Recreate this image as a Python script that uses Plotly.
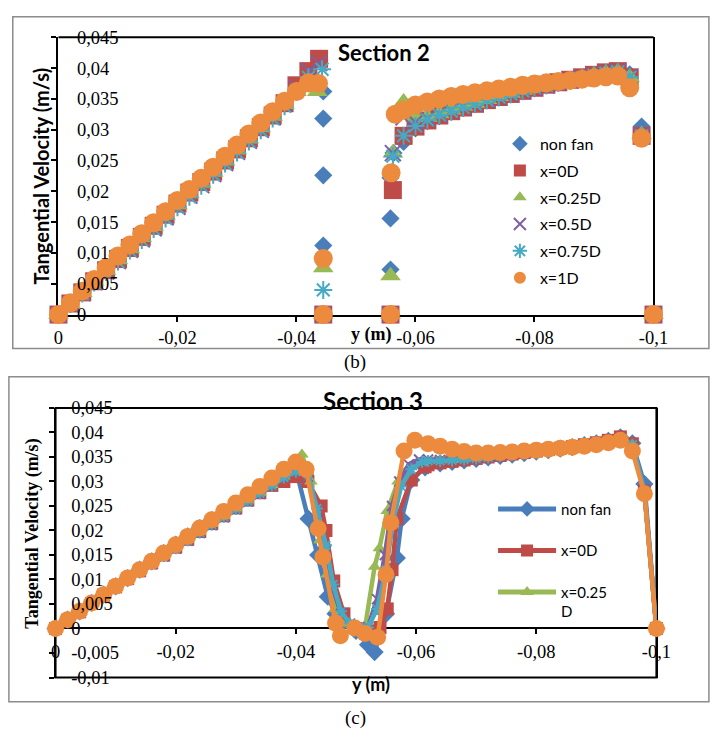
import plotly.graph_objects as go

W, H = 721, 742

# ---------------- DATA ----------------
SERIES = ["non fan", "x=0D", "x=0.25D", "x=0.5D", "x=0.75D", "x=1D"]
COLORS = ["#4A7EBB", "#BE4B48", "#98B954", "#7D60A0", "#46AAC5", "#EC8A3E"]

Y_TICKVALS_TOP = [0, 0.005, 0.01, 0.015, 0.02, 0.025, 0.03, 0.035, 0.04, 0.045]
Y_TICKTEXT_TOP = ["0", "0,005", "0,01", "0,015", "0,02", "0,025", "0,03", "0,035", "0,04", "0,045"]
Y_TICKVALS_BOT = [-0.01, -0.005, 0, 0.005, 0.01, 0.015, 0.02, 0.025, 0.03, 0.035, 0.04, 0.045]
Y_TICKTEXT_BOT = ["-0,01", "-0,005", "0", "0,005", "0,01", "0,015", "0,02", "0,025", "0,03", "0,035", "0,04", "0,045"]
X_TICKVALS = [0, -0.02, -0.04, -0.06, -0.08, -0.1]
X_TICKTEXT = ["0", "-0,02", "-0,04", "-0,06", "-0,08", "-0,1"]

# Section 2 ---------------------------------------------------------------
S2_X_LEFT = [0, -0.002, -0.004, -0.006, -0.008, -0.010, -0.012, -0.014, -0.016, -0.018, -0.020,
             -0.022, -0.024, -0.026, -0.028, -0.030, -0.032, -0.034, -0.036, -0.038, -0.040, -0.042]
S2_X_RIGHT = [-0.058, -0.060, -0.062, -0.064, -0.066, -0.068, -0.070, -0.072, -0.074, -0.076, -0.078,
              -0.080, -0.082, -0.084, -0.086, -0.088, -0.090, -0.092, -0.094, -0.096, -0.098, -0.100]

S2_NF_LEFT = [0, 0.0019, 0.0038, 0.0057, 0.0076, 0.0095, 0.0113, 0.0131, 0.0149, 0.0167, 0.0185,
              0.0203, 0.0221, 0.0239, 0.0257, 0.0275, 0.0293, 0.0311, 0.0329, 0.0347, 0.0362, 0.0375]
S2_X0_LEFT = [0, 0.0018, 0.0036, 0.0054, 0.0072, 0.0090, 0.0108, 0.0126, 0.0144, 0.0162, 0.0180,
              0.0198, 0.0215, 0.0232, 0.0250, 0.0268, 0.0286, 0.0304, 0.0323, 0.0343, 0.0372, 0.0395]
S2_X25_LEFT = [0, 0.0018, 0.0036, 0.0054, 0.0072, 0.0089, 0.0107, 0.0125, 0.0143, 0.0161, 0.0178,
               0.0196, 0.0213, 0.0231, 0.0249, 0.0267, 0.0285, 0.0303, 0.0322, 0.0341, 0.0362, 0.0383]
S2_X50_LEFT = [0, 0.0017, 0.0035, 0.0053, 0.0070, 0.0087, 0.0105, 0.0122, 0.0140, 0.0158, 0.0175,
               0.0193, 0.0210, 0.0228, 0.0246, 0.0264, 0.0282, 0.0300, 0.0320, 0.0342, 0.0368, 0.0395]
S2_X75_LEFT = [0, 0.0017, 0.0034, 0.0052, 0.0069, 0.0086, 0.0104, 0.0121, 0.0139, 0.0156, 0.0174,
               0.0191, 0.0209, 0.0227, 0.0245, 0.0263, 0.0281, 0.0299, 0.0318, 0.0338, 0.0362, 0.0385]
S2_X100_LEFT = [0, 0.0019, 0.0038, 0.0057, 0.0076, 0.0095, 0.0113, 0.0131, 0.0149, 0.0167, 0.0185,
                0.0203, 0.0221, 0.0239, 0.0257, 0.0275, 0.0293, 0.0311, 0.0329, 0.0346, 0.0362, 0.0376]

S2_NF_GAP_X = [-0.0445, -0.0445, -0.0445, -0.0445, -0.0445, -0.0558, -0.0558, -0.0558, -0.0558, -0.0563]
S2_NF_GAP_V = [0.0362, 0.0318, 0.0226, 0.0112, 0, 0, 0.0073, 0.0156, 0.0222, 0.0262]
S2_X0_GAP_X = [-0.0438, -0.0445, -0.0558, -0.0562]
S2_X0_GAP_V = [0.0415, 0, 0, 0.0202]
S2_X25_GAP_X = [-0.0435, -0.0445, -0.0445, -0.0558, -0.0558, -0.0562]
S2_X25_GAP_V = [0.0362, 0.0076, 0, 0, 0.0063, 0.0262]
S2_X50_GAP_X = [-0.0438, -0.0445, -0.0558, -0.0562]
S2_X50_GAP_V = [0.0408, 0, 0, 0.0262]
S2_X75_GAP_X = [-0.0443, -0.0445, -0.0445, -0.0558, -0.0562]
S2_X75_GAP_V = [0.0398, 0.0040, 0, 0, 0.0257]
S2_X100_GAP_X = [-0.0437, -0.0445, -0.0445, -0.0558, -0.0559, -0.0566]
S2_X100_GAP_V = [0.0375, 0.0091, 0, 0, 0.0230, 0.0325]

S2_NF_RIGHT = [0.0280, 0.0302, 0.0314, 0.0322, 0.0329, 0.0335, 0.0341, 0.0347, 0.0352, 0.0357, 0.0362,
               0.0367, 0.0372, 0.0376, 0.0380, 0.0384, 0.0388, 0.0392, 0.0395, 0.0390, 0.0305, 0]
S2_X0_RIGHT = [0.0290, 0.0305, 0.0315, 0.0323, 0.0330, 0.0336, 0.0342, 0.0348, 0.0353, 0.0358, 0.0363,
               0.0368, 0.0373, 0.0377, 0.0381, 0.0385, 0.0389, 0.0393, 0.0395, 0.0385, 0.0290, 0]
S2_X25_RIGHT = [0.0345, 0.0320, 0.0320, 0.0326, 0.0332, 0.0338, 0.0343, 0.0349, 0.0354, 0.0359, 0.0364,
                0.0369, 0.0373, 0.0377, 0.0381, 0.0385, 0.0389, 0.0392, 0.0394, 0.0385, 0.0292, 0]
S2_X50_RIGHT = [0.0320, 0.0312, 0.0318, 0.0325, 0.0331, 0.0337, 0.0342, 0.0348, 0.0353, 0.0358, 0.0363,
                0.0368, 0.0372, 0.0376, 0.0380, 0.0384, 0.0388, 0.0392, 0.0394, 0.0385, 0.0290, 0]
S2_X75_RIGHT = [0.0290, 0.0306, 0.0316, 0.0324, 0.0330, 0.0336, 0.0342, 0.0348, 0.0353, 0.0358, 0.0363,
                0.0368, 0.0372, 0.0376, 0.0380, 0.0384, 0.0388, 0.0392, 0.0394, 0.0385, 0.0290, 0]
S2_X100_RIGHT = [0.0332, 0.0340, 0.0345, 0.0350, 0.0354, 0.0357, 0.0360, 0.0363, 0.0366, 0.0369, 0.0372,
                 0.0374, 0.0376, 0.0378, 0.0380, 0.0382, 0.0384, 0.0386, 0.0387, 0.0368, 0.0286, 0]

# Section 3 ---------------------------------------------------------------
S3_X_LEFT = [0, -0.002, -0.004, -0.006, -0.008, -0.010, -0.012, -0.014, -0.016, -0.018, -0.020,
             -0.022, -0.024, -0.026, -0.028, -0.030, -0.032, -0.034, -0.036, -0.038, -0.040]
S3_X_RIGHT = [-0.062, -0.064, -0.066, -0.068, -0.070, -0.072, -0.074, -0.076, -0.078, -0.080,
              -0.082, -0.084, -0.086, -0.088, -0.090, -0.092, -0.094, -0.096, -0.098, -0.100]

S3_NF_LEFT = [0, 0.0018, 0.0035, 0.0052, 0.0069, 0.0086, 0.0103, 0.0120, 0.0137, 0.0154, 0.0171,
              0.0188, 0.0205, 0.0221, 0.0237, 0.0253, 0.0269, 0.0285, 0.0301, 0.0315, 0.0325]
S3_X0_LEFT = [0, 0.0017, 0.0034, 0.0051, 0.0068, 0.0085, 0.0102, 0.0118, 0.0134, 0.0150, 0.0166,
              0.0182, 0.0198, 0.0214, 0.0230, 0.0246, 0.0262, 0.0277, 0.0292, 0.0300, 0.0310]
S3_X25_LEFT = [0, 0.0017, 0.0034, 0.0051, 0.0068, 0.0085, 0.0101, 0.0117, 0.0133, 0.0149, 0.0165,
               0.0181, 0.0197, 0.0213, 0.0229, 0.0245, 0.0261, 0.0277, 0.0293, 0.0310, 0.0335]
S3_X50_LEFT = [0, 0.0016, 0.0033, 0.0050, 0.0066, 0.0083, 0.0099, 0.0115, 0.0131, 0.0147, 0.0163,
               0.0179, 0.0195, 0.0211, 0.0227, 0.0243, 0.0259, 0.0275, 0.0291, 0.0308, 0.0322]
S3_X75_LEFT = [0, 0.0016, 0.0033, 0.0050, 0.0066, 0.0083, 0.0099, 0.0116, 0.0132, 0.0148, 0.0164,
               0.0180, 0.0196, 0.0212, 0.0228, 0.0244, 0.0260, 0.0276, 0.0292, 0.0308, 0.0320]
S3_X100_LEFT = [0, 0.0018, 0.0035, 0.0052, 0.0069, 0.0086, 0.0103, 0.0120, 0.0137, 0.0154, 0.0171,
                0.0188, 0.0205, 0.0222, 0.0239, 0.0256, 0.0273, 0.0290, 0.0307, 0.0325, 0.0340]

S3_NF_MID_X = [-0.0421, -0.0437, -0.0453, -0.0466, -0.0479, -0.0500, -0.0520, -0.0531, -0.0550,
               -0.0568, -0.0576, -0.0592, -0.0615]
S3_NF_MID_V = [0.0224, 0.0150, 0.0065, 0.0030, 0.0015, -0.0005, -0.0033, -0.0048, 0.0030,
               0.0144, 0.0224, 0.0303, 0.0329]
S3_X0_MID_X = [-0.0420, -0.0442, -0.0450, -0.0463, -0.0480, -0.0500, -0.0520, -0.0540, -0.0552,
               -0.0560, -0.0568, -0.0592, -0.0615]
S3_X0_MID_V = [0.0300, 0.0250, 0.0200, 0.0097, 0.0030, 0.0000, -0.0005, 0.0002, 0.0040,
               0.0120, 0.0224, 0.0303, 0.0330]
S3_X25_MID_X = [-0.0410, -0.0425, -0.0440, -0.0452, -0.0465, -0.0480, -0.0500, -0.0515, -0.0531,
                -0.0539, -0.0552, -0.0570, -0.0590, -0.0610]
S3_X25_MID_V = [0.0355, 0.0300, 0.0180, 0.0110, 0.0040, 0.0010, 0.0000, 0.0002, 0.0126,
                0.0164, 0.0240, 0.0300, 0.0330, 0.0340]
S3_X50_MID_X = [-0.0420, -0.0435, -0.0450, -0.0462, -0.0475, -0.0490, -0.0505, -0.0520, -0.0535,
                -0.0548, -0.0560, -0.0572, -0.0588, -0.0605]
S3_X50_MID_V = [0.0310, 0.0240, 0.0160, 0.0080, 0.0030, 0.0010, 0.0000, 0.0003, 0.0060,
                0.0150, 0.0250, 0.0300, 0.0335, 0.0345]
S3_X75_MID_X = [-0.0420, -0.0435, -0.0450, -0.0462, -0.0475, -0.0490, -0.0505, -0.0520, -0.0535,
                -0.0550, -0.0562, -0.0575, -0.0592, -0.0610]
S3_X75_MID_V = [0.0315, 0.0245, 0.0170, 0.0090, 0.0035, 0.0010, 0.0000, 0.0002, 0.0040,
                0.0120, 0.0220, 0.0290, 0.0325, 0.0340]
S3_X100_MID_X = [-0.0417, -0.0437, -0.0445, -0.0466, -0.0474, -0.0498, -0.0515, -0.0536, -0.0550,
                 -0.0558, -0.0580, -0.0598]
S3_X100_MID_V = [0.0325, 0.0204, 0.0146, 0.0011, -0.0015, 0.0001, -0.0010, -0.0018, 0.0110,
                 0.0216, 0.0362, 0.0384]

S3_NF_RIGHT = [0.0333, 0.0337, 0.0340, 0.0343, 0.0346, 0.0349, 0.0352, 0.0355, 0.0358, 0.0361,
               0.0364, 0.0367, 0.0370, 0.0374, 0.0378, 0.0383, 0.0390, 0.0378, 0.0295, 0]
S3_X0_RIGHT = [0.0334, 0.0338, 0.0341, 0.0344, 0.0347, 0.0350, 0.0353, 0.0356, 0.0359, 0.0362,
               0.0365, 0.0368, 0.0371, 0.0375, 0.0379, 0.0384, 0.0391, 0.0377, 0.0280, 0]
S3_X25_RIGHT = [0.0342, 0.0343, 0.0344, 0.0346, 0.0348, 0.0350, 0.0353, 0.0356, 0.0359, 0.0362,
                0.0365, 0.0368, 0.0371, 0.0375, 0.0379, 0.0383, 0.0389, 0.0375, 0.0280, 0]
S3_X50_RIGHT = [0.0345, 0.0344, 0.0344, 0.0345, 0.0347, 0.0349, 0.0352, 0.0355, 0.0358, 0.0361,
                0.0364, 0.0367, 0.0370, 0.0374, 0.0378, 0.0382, 0.0388, 0.0375, 0.0280, 0]
S3_X75_RIGHT = [0.0342, 0.0342, 0.0343, 0.0345, 0.0347, 0.0349, 0.0352, 0.0355, 0.0358, 0.0361,
                0.0364, 0.0367, 0.0370, 0.0374, 0.0378, 0.0382, 0.0388, 0.0375, 0.0280, 0]
S3_X100_RIGHT = [0.0377, 0.0372, 0.0366, 0.0361, 0.0358, 0.0358, 0.0359, 0.0360, 0.0362, 0.0364,
                 0.0366, 0.0368, 0.0370, 0.0372, 0.0375, 0.0379, 0.0384, 0.0362, 0.0275, 0]

S2_PARTS = [
    (S2_NF_LEFT, S2_NF_GAP_X, S2_NF_GAP_V, S2_NF_RIGHT),
    (S2_X0_LEFT, S2_X0_GAP_X, S2_X0_GAP_V, S2_X0_RIGHT),
    (S2_X25_LEFT, S2_X25_GAP_X, S2_X25_GAP_V, S2_X25_RIGHT),
    (S2_X50_LEFT, S2_X50_GAP_X, S2_X50_GAP_V, S2_X50_RIGHT),
    (S2_X75_LEFT, S2_X75_GAP_X, S2_X75_GAP_V, S2_X75_RIGHT),
    (S2_X100_LEFT, S2_X100_GAP_X, S2_X100_GAP_V, S2_X100_RIGHT),
]
S3_PARTS = [
    (S3_NF_LEFT, S3_NF_MID_X, S3_NF_MID_V, S3_NF_RIGHT),
    (S3_X0_LEFT, S3_X0_MID_X, S3_X0_MID_V, S3_X0_RIGHT),
    (S3_X25_LEFT, S3_X25_MID_X, S3_X25_MID_V, S3_X25_RIGHT),
    (S3_X50_LEFT, S3_X50_MID_X, S3_X50_MID_V, S3_X50_RIGHT),
    (S3_X75_LEFT, S3_X75_MID_X, S3_X75_MID_V, S3_X75_RIGHT),
    (S3_X100_LEFT, S3_X100_MID_X, S3_X100_MID_V, S3_X100_RIGHT),
]
LEGEND3_NAMES = ["non fan", "x=0D", "x=0.25<br>D", "x=0.5D", "x=0.75D", "x=1D"]

# ---------------- STYLE ----------------
SYMBOLS = ["diamond", "square", "triangle-up", "x-thin-open", "asterisk-open", "circle"]
SIZES_TOP = [14, 18, 18, 16, 15, 19]
SIZES_BOT = [14, 13, 12, 10, 10, 17]

SERIF = "Liberation Serif"
SANS = "Lato"


def px_x(p):
    return p / W


def px_y(p):
    return 1 - p / H


fig = go.Figure()

for i, name in enumerate(SERIES):
    left, gx, gv, right = S2_PARTS[i]
    xs = S2_X_LEFT + gx + S2_X_RIGHT
    vs = left + gv + right
    open_sym = SYMBOLS[i].endswith("open")
    fig.add_trace(go.Scatter(
        x=xs, y=vs, mode="markers", name=name, legend="legend", legendgroup="a" + str(i),
        xaxis="x", yaxis="y", cliponaxis=False,
        marker=dict(symbol=SYMBOLS[i], size=SIZES_TOP[i], color=COLORS[i],
                    line=dict(width=2 if open_sym else 0, color=COLORS[i])),
    ))

for i, name in enumerate(SERIES):
    left, mx, mv, right = S3_PARTS[i]
    xs = S3_X_LEFT + mx + S3_X_RIGHT
    vs = left + mv + right
    open_sym = SYMBOLS[i].endswith("open")
    fig.add_trace(go.Scatter(
        x=xs, y=vs, mode="lines+markers", name=LEGEND3_NAMES[i], legend="legend2",
        legendgroup="b" + str(i), showlegend=(i < 3),
        xaxis="x2", yaxis="y2", cliponaxis=False,
        line=dict(color=COLORS[i], width=4.5),
        marker=dict(symbol=SYMBOLS[i], size=SIZES_BOT[i], color=COLORS[i],
                    line=dict(width=2 if open_sym else 0, color=COLORS[i])),
    ))

# invisible helpers so overlay label axes are rendered
fig.add_trace(go.Scatter(x=[None], y=[None], xaxis="x", yaxis="y3", showlegend=False, hoverinfo="skip"))
fig.add_trace(go.Scatter(x=[None], y=[None], xaxis="x2", yaxis="y4", showlegend=False, hoverinfo="skip"))

# plot areas (pixels)
T_L, T_R, T_T, T_B = 55, 667, 28, 313
B_L, B_R, B_T, B_B = 52, 670, 409, 686
B_Y0 = 635.6

tickfont = dict(family=SERIF, size=18.5, color="black")

fig.update_layout(
    width=W, height=H, autosize=False,
    margin=dict(l=0, r=0, t=0, b=0),
    paper_bgcolor="white", plot_bgcolor="rgba(0,0,0,0)",
    showlegend=True,
    xaxis=dict(domain=[px_x(T_L), px_x(T_R)], range=[0, -0.1], anchor="y",
               tickvals=X_TICKVALS, ticktext=X_TICKTEXT, tickfont=tickfont,
               showline=True, linecolor="black", linewidth=2, ticks="outside", ticklen=5,
               tickwidth=1.5, tickcolor="black", showgrid=False, zeroline=False, layer="below traces"),
    yaxis=dict(domain=[px_y(T_B), px_y(T_T)], range=[0, 0.045], anchor="x",
               tickvals=Y_TICKVALS_TOP, showticklabels=False,
               showline=True, linecolor="black", linewidth=2, mirror=True,
               ticks="outside", ticklen=5, tickwidth=1.5, tickcolor="black",
               showgrid=False, zeroline=False, layer="below traces"),
    yaxis3=dict(overlaying="y", anchor="free", side="right", position=px_x(T_L + 18),
                range=[0, 0.045], tickvals=Y_TICKVALS_TOP, ticktext=Y_TICKTEXT_TOP,
                tickfont=tickfont, ticks="", showline=False, showgrid=False, zeroline=False),
    xaxis2=dict(domain=[px_x(B_L), px_x(B_R)], range=[0, -0.1], anchor="free",
                position=px_y(B_Y0), ticklabelstandoff=1,
                tickvals=X_TICKVALS, ticktext=X_TICKTEXT, tickfont=tickfont,
                showline=True, linecolor="black", linewidth=2, ticks="outside", ticklen=5,
                tickwidth=1.5, tickcolor="black", showgrid=False, zeroline=False, layer="below traces"),
    yaxis2=dict(domain=[px_y(B_B), px_y(B_T)], range=[-0.01, 0.045], anchor="x2",
                tickvals=Y_TICKVALS_BOT, showticklabels=False,
                showline=True, linecolor="black", linewidth=2, mirror=True,
                ticks="outside", ticklen=5, tickwidth=1.5, tickcolor="black",
                showgrid=False, zeroline=False, layer="below traces"),
    yaxis4=dict(overlaying="y2", anchor="free", side="right", position=px_x(B_L + 15),
                range=[-0.01, 0.045], tickvals=Y_TICKVALS_BOT, ticktext=Y_TICKTEXT_BOT,
                tickfont=tickfont, ticks="", showline=False, showgrid=False, zeroline=False),
    legend=dict(x=px_x(509), y=px_y(120), xanchor="left", yanchor="top",
                bgcolor="rgba(0,0,0,0)", borderwidth=0, tracegroupgap=3,
                itemsizing="constant", font=dict(family=SANS, size=16, color="black")),
    legend2=dict(x=px_x(502), y=px_y(496), xanchor="left", yanchor="top", valign="top",
                 bgcolor="rgba(0,0,0,0)", borderwidth=0, tracegroupgap=19, itemwidth=58,
                 itemsizing="constant", font=dict(family=SANS, size=15, color="black")),
)

shapes = [
    # outer gray frames
    dict(type="rect", xref="paper", yref="paper", x0=px_x(8), x1=px_x(724), y0=px_y(348), y1=px_y(7),
         line=dict(color="#8c8c8c", width=1.5), layer="below"),
    dict(type="rect", xref="paper", yref="paper", x0=px_x(4), x1=px_x(724), y0=px_y(711), y1=px_y(377),
         line=dict(color="#8c8c8c", width=1.5), layer="below"),
    # bottom plot-area box
    dict(type="rect", xref="x2 domain", yref="y2 domain", x0=0, x1=1, y0=0, y1=1,
         line=dict(color="black", width=2), layer="below"),
    # top plot-area top edge
    dict(type="line", xref="x domain", yref="y domain", x0=0, x1=1, y0=1, y1=1,
         line=dict(color="black", width=2), layer="below"),
]
fig.update_layout(shapes=shapes)


def ann(text, x, y, font, angle=0):
    return dict(text=text, x=px_x(x), y=px_y(y), xref="paper", yref="paper",
                xanchor="center", yanchor="middle", showarrow=False, textangle=angle, font=font)


annotations = [
    ann("<b>Section 2</b>", 390, 44, dict(family=SANS, size=22, color="black")),
    ann("<b>Section 3</b>", 378, 401, dict(family=SANS, size=24, color="black")),
    ann("<b>Tangential Velocity (m/s)</b>", 37, 170, dict(family=SANS, size=20, color="black"), -90),
    ann("<b>Tangential Velocity (m/s)</b>", 28, 538, dict(family=SERIF, size=18, color="black"), -90),
    ann("<b>y (m)</b>", 376, 334, dict(family=SERIF, size=18, color="black")),
    ann("<b>y (m)</b>", 376, 693, dict(family=SANS, size=18, color="black")),
    ann("(b)", 360, 362, dict(family=SERIF, size=19, color="black")),
    ann("(c)", 360, 728, dict(family=SERIF, size=19, color="black")),
]
fig.update_layout(annotations=annotations)

fig.write_html("out.html")
